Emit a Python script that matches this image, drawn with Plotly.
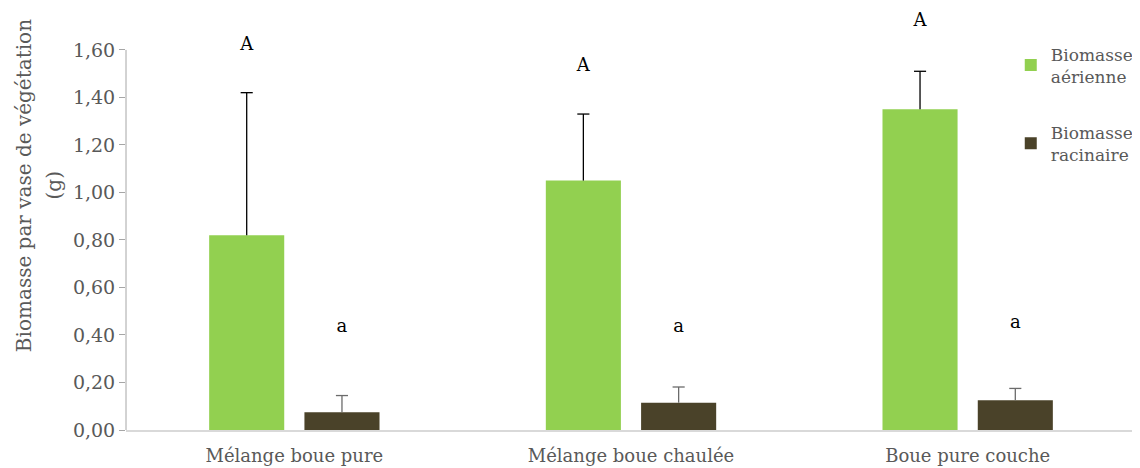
import plotly.graph_objects as go

categories = ["Mélange boue pure", "Mélange boue chaulée", "Boue pure couche"]
series_names = ["Biomasse<br>aérienne", "Biomasse<br>racinaire"]
aerial = [0.82, 1.05, 1.35]
aerial_err = [0.60, 0.28, 0.16]
root = [0.075, 0.115, 0.125]
root_err = [0.07, 0.066, 0.05]
aerial_letters = ["A", "A", "A"]
aerial_letter_y = [1.62, 1.53, 1.72]
root_letters = ["a", "a", "a"]
root_letter_y = [0.43, 0.43, 0.45]
y_ticks = [0, 0.2, 0.4, 0.6, 0.8, 1.0, 1.2, 1.4, 1.6]

FONT = "DejaVu Serif"
GRAY = "#595959"
W = 0.223
GAP = 0.06
CAP = 0.018
off_a = -(W + GAP / 2)
off_r = GAP / 2
xs = list(range(len(categories)))


def err_path(centers, vals, errs):
    px, py = [], []
    for xc, v, e in zip(centers, vals, errs):
        px += [xc, xc, None, xc - CAP, xc + CAP, None]
        py += [v, v + e, None, v + e, v + e, None]
    return px, py


fig = go.Figure()
fig.add_trace(go.Bar(
    x=xs, y=aerial, name=series_names[0], width=W, offset=off_a,
    marker=dict(color="#92D050", line=dict(width=0)), legendgroup="g1",
))
fig.add_trace(go.Bar(
    x=xs, y=root, name=series_names[1], width=W, offset=off_r,
    marker=dict(color="#4A4229", line=dict(width=0)), legendgroup="g2",
))
ca = [x + off_a + W / 2 for x in xs]
cr = [x + off_r + W / 2 for x in xs]
ex, ey = err_path(ca, aerial, aerial_err)
fig.add_trace(go.Scatter(x=ex, y=ey, mode="lines", line=dict(color="#000000", width=1.3),
                         showlegend=False, hoverinfo="skip"))
ex, ey = err_path(cr, root, root_err)
fig.add_trace(go.Scatter(x=ex, y=ey, mode="lines", line=dict(color="#6b6b6b", width=1.3),
                         showlegend=False, hoverinfo="skip"))
fig.add_trace(go.Scatter(
    x=ca, y=aerial_letter_y, mode="text", text=aerial_letters, showlegend=False,
    textfont=dict(family=FONT, size=18, color="#000000"), hoverinfo="skip",
))
fig.add_trace(go.Scatter(
    x=cr, y=root_letter_y, mode="text", text=root_letters, showlegend=False,
    textfont=dict(family=FONT, size=18, color="#000000"), hoverinfo="skip",
))

fig.update_layout(
    width=1132, height=460,
    margin=dict(l=118, r=4, t=2, b=38, autoexpand=False),
    plot_bgcolor="white", paper_bgcolor="white",
    barmode="overlay",
    separators=", ",
    font=dict(family=FONT, size=18, color=GRAY),
    showlegend=True,
    legend=dict(x=0.876, xanchor="left", y=0.937, yanchor="top",
                font=dict(family=FONT, size=17, color=GRAY),
                traceorder="grouped", tracegroupgap=31,
                bgcolor="rgba(0,0,0,0)", itemwidth=30),
    xaxis=dict(range=[-0.5, 2.5], tickvals=xs, ticktext=categories,
               showline=True, linecolor="#d9d9d9", linewidth=2,
               ticks="", showgrid=False, zeroline=False, ticklabelstandoff=8,
               tickfont=dict(family=FONT, size=18, color=GRAY)),
    yaxis=dict(range=[0, 1.768], tickvals=y_ticks, tickformat=".2f",
               showline=False,
               ticks="outside", ticklen=6, tickcolor="#a6a6a6",
               showgrid=False, zeroline=False,
               tickfont=dict(family=FONT, size=19, color=GRAY)),
    shapes=[dict(type="line", xref="paper", yref="y", x0=0, x1=0, y0=0, y1=y_ticks[-1],
                 line=dict(color="#a6a6a6", width=1))],
    annotations=[
        dict(text="Biomasse par vase de végétation", textangle=-90,
             xref="paper", yref="paper", x=-0.101, y=0.583,
             xanchor="center", yanchor="middle", showarrow=False,
             font=dict(family=FONT, size=20, color=GRAY)),
        dict(text="(g)", textangle=-90,
             xref="paper", yref="paper", x=-0.071, y=0.583,
             xanchor="center", yanchor="middle", showarrow=False,
             font=dict(family=FONT, size=20, color=GRAY)),
    ],
)

fig.write_html("out.html")
